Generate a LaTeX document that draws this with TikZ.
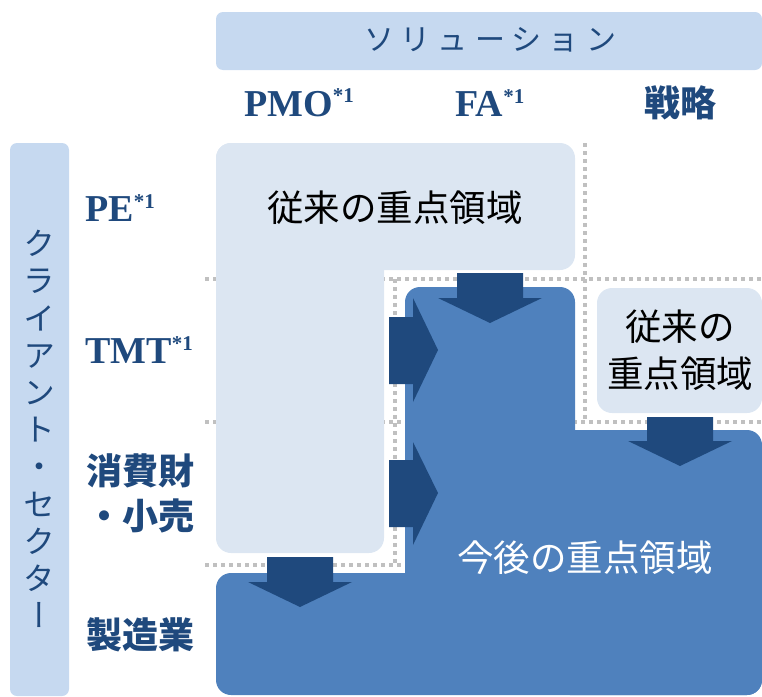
\documentclass[tikz,border=0pt]{standalone}
\usepackage{fontspec}
\setmainfont{Liberation Serif}
\newfontfamily\jp{Noto Sans CJK JP}
\newfontfamily\jpv{Noto Sans CJK JP}[RawFeature=+vert]
\definecolor{barblue}{HTML}{C6D9F0}
\definecolor{lightbox}{HTML}{DCE6F2}
\definecolor{darkbox}{HTML}{4F81BD}
\definecolor{arrowblue}{HTML}{1F497D}
\definecolor{hdrblue}{HTML}{1F497D}
\definecolor{dotgray}{HTML}{C0C0C0}
\newcommand{\supone}{\raisebox{0.36em}{\bfseries\fontsize{21}{21}\selectfont *1}}
\begin{document}
\begin{tikzpicture}[x=1pt,y=-1pt,
  dots/.style={draw=dotgray,line width=3.5pt,dash pattern=on 3.5pt off 4.5pt},
  blk/.style={fill=arrowblue},
  hdr/.style={text=hdrblue,font=\bfseries\fontsize{38}{38}\selectfont,inner sep=0pt},
  jhdr/.style={text=hdrblue,font=\jp\bfseries\fontsize{36}{45}\selectfont,align=center,inner sep=0pt},
  jbig/.style={font=\jp\fontsize{36.5}{47}\selectfont,align=center,inner sep=0pt}]
\useasboundingbox (0,0) rectangle (762,696);

% header bars
\fill[barblue,rounded corners=7pt] (216,12) rectangle (762,70);
\fill[barblue,rounded corners=7pt] (10,143) rectangle (69,696);

% dotted grid
\draw[dots] (205,279) -- (762,279);
\draw[dots] (205,422) -- (762,422);
\draw[dots] (205,565) -- (401,565);
\draw[dots] (585,143) -- (585,422);
\draw[dots] (395,279) -- (395,565);

% light L-shape (current focus)
\fill[lightbox,rounded corners=15pt] (216,143) rectangle (575,270);
\fill[lightbox,rounded corners=15pt] (216,143) rectangle (384,553);
% right light box
\fill[lightbox,rounded corners=15pt] (597,288) rectangle (762,413);

% dark shape (future focus)
\fill[darkbox,rounded corners=15pt] (405,287) rectangle (575,660);
\fill[darkbox,rounded corners=15pt] (216,573) rectangle (762,695);
\fill[darkbox,rounded corners=15pt] (555,430) rectangle (762,695);

% block arrows
\fill[blk] (457,273) -- (523,273) -- (523,298) -- (542,298) -- (490,323) -- (438,298) -- (457,298) -- cycle;
\fill[blk] (389,317) -- (413,317) -- (413,298) -- (438,350) -- (413,402) -- (413,384) -- (389,384) -- cycle;
\fill[blk] (389,460) -- (413,460) -- (413,442) -- (438,493) -- (413,545) -- (413,527) -- (389,527) -- cycle;
\fill[blk] (267,557) -- (333,557) -- (333,582) -- (352,582) -- (300,607) -- (248,582) -- (267,582) -- cycle;
\fill[blk] (647,417) -- (713,417) -- (713,441) -- (732,441) -- (680,466) -- (628,441) -- (647,441) -- cycle;

% titles
\node[text=hdrblue,font=\jp\fontsize{30}{30}\selectfont,inner sep=0pt] (sol) at (490,40)
  {ソ\kern7ptリ\kern7ptュ\kern7ptー\kern7ptシ\kern7ptョ\kern7ptン};
\node[text=hdrblue,font=\jpv\fontsize{32}{37.2}\selectfont,align=center,inner sep=0pt] (cli) at (39,429)
  {ク\\ラ\\イ\\ア\\ン\\ト\\・\\セ\\ク\\タ\\ー};

% column headers
\node[hdr] (pmo) at (299,103) {PMO\supone};
\node[hdr] (fa) at (490,103) {FA\supone};
\node[jhdr] (sen) at (680,103) {戦略};

% row headers
\node[hdr,anchor=west] (pe) at (85,208) {PE\supone};
\node[hdr,anchor=west] (tmt) at (85,350) {TMT\supone};
\node[jhdr] (cons) at (140,493) {消費財\\・小売};
\node[jhdr] (mfg) at (140,635) {製造業};

% area labels
\node[jbig,text=black] (cur) at (395,208) {従来の重点領域};
\node[jbig,text=black] (cur2) at (680,350) {従来の\\重点領域};
\node[jbig,text=white] (fut) at (585,558) {今後の重点領域};
\end{tikzpicture}
\end{document}
